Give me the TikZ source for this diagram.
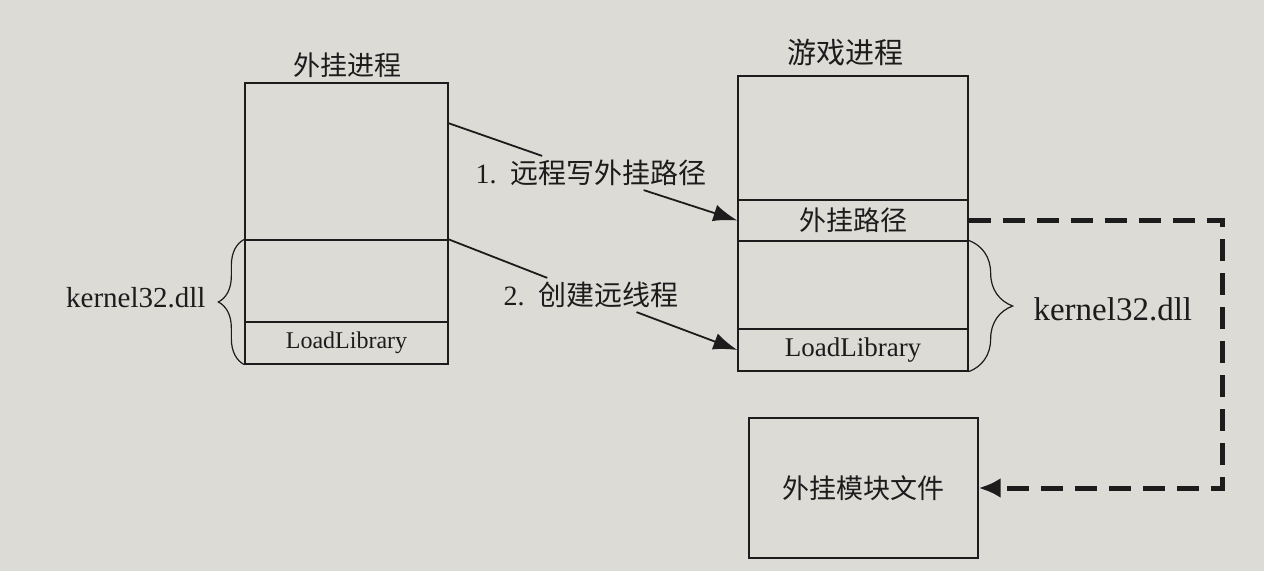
\documentclass[tikz,border=0pt]{standalone}
\usepackage{fontspec}
\setmainfont{Liberation Serif}
\newfontfamily\cjk{Noto Sans CJK SC}
\usetikzlibrary{arrows.meta,decorations.pathreplacing}
\definecolor{paper}{RGB}{221,219,214}
\definecolor{ink}{RGB}{28,28,28}
\begin{document}
\begin{tikzpicture}[x=1pt,y=-1pt,
  cell/.style={draw=ink,line width=1.3pt,inner sep=0pt,text=ink},
  cjktxt/.style={font=\cjk\fontsize{27}{30}\selectfont,text=ink},
  lbl/.style={inner xsep=2pt,inner ysep=4pt,text=ink,font=\fontsize{28}{30}\selectfont},
  conn/.style={draw=ink,line width=1.8pt},
  arr/.style={conn,-{Latex[length=24pt,width=17pt]}},
  dasharr/.style={draw=ink,line width=5pt,dash pattern=on 22pt off 12pt,line join=miter,-{Latex[length=22pt,width=20pt]}},
  bracestyle/.style={draw=ink,line width=1.2pt,decorate,decoration={brace,amplitude=#1}}
]
\fill[paper] (0,0) rectangle (1264,571);
\useasboundingbox (0,0) rectangle (1264,571);

% left process
\node[cjktxt] (Ltitle) at (347,65) {外挂进程};
\node[cell,minimum width=203pt,minimum height=157pt] (Ltop) at (346.5,161.5) {};
\node[cell,minimum width=203pt,minimum height=82pt] (Lmid) at (346.5,281) {};
\node[cell,minimum width=203pt,minimum height=42pt,font=\fontsize{24}{26}\selectfont] (Lload) at (346.5,343) {LoadLibrary};
\draw[bracestyle=26pt] (Lload.south west) -- (Lmid.north west);
\node[anchor=east,text=ink,font=\fontsize{29}{32}\selectfont] (Lk) at (209,298) {kernel32.dll};

% right process
\node[cjktxt,font=\cjk\fontsize{29}{32}\selectfont] (Rtitle) at (845,53) {游戏进程};
\node[cell,minimum width=230pt,minimum height=124pt] (Rtop) at (853,138) {};
\node[cell,cjktxt,minimum width=230pt,minimum height=41pt] (Rpath) at (853,220.5) {外挂路径};
\node[cell,minimum width=230pt,minimum height=88pt] (Rmid) at (853,285) {};
\node[cell,minimum width=230pt,minimum height=42pt,font=\fontsize{27}{29}\selectfont] (Rload) at (853,350) {LoadLibrary};
\draw[bracestyle=44pt] (Rmid.north east) -- (Rload.south east);
\node[anchor=west,text=ink,font=\fontsize{33}{36}\selectfont] (Rk) at (1030,309) {kernel32.dll};

% module file
\node[cell,cjktxt,minimum width=229pt,minimum height=140pt] (M) at (863.5,488) {外挂模块文件};

% connectors
\coordinate (a1) at (448,123);
\node[lbl] (l1) at (591,173) {1.\hspace{14pt}{\cjk 远程写外挂路径}};
\node[lbl] (l2) at (591,295) {2.\hspace{14pt}{\cjk 创建远线程}};
\draw[conn] (a1) -- (l1);
\draw[arr] (l1) -- (Rpath.west);
\draw[conn] (Lmid.north east) -- (l2);
\draw[arr] (l2) -- (Rload.west);

\coordinate (t1) at (1222,220.5);
\coordinate (t2) at (1222,488);
\draw[dasharr] (Rpath.east) -- (t1) -- (t2) -- (M.east);
\end{tikzpicture}
\end{document}
